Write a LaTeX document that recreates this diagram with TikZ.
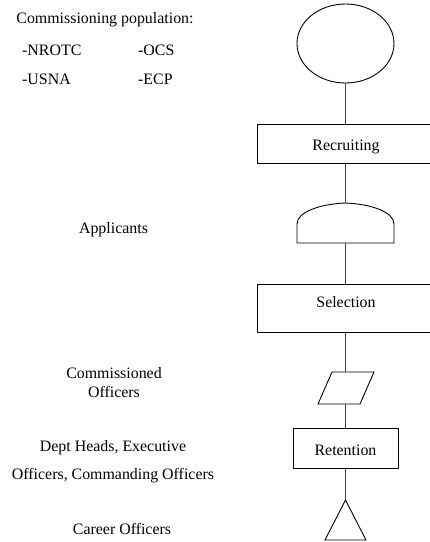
\documentclass[tikz,border=0pt]{standalone}
\usepackage{fontspec}
\setmainfont{Liberation Serif}
\usetikzlibrary{shapes.geometric}
\begin{document}
\begin{tikzpicture}[x=1pt,y=-1pt,
  every node/.style={font=\fontsize{15.9}{19}\selectfont, inner sep=0pt},
  shape line/.style={draw=black, line width=0.9pt},
  link/.style={draw=black!75, line width=0.9pt},
  label text/.style={align=center}]
\useasboundingbox (0,0) rectangle (430,542);
\clip (0,0) rectangle (430,542);

% left-hand labels
\node[label text] (pop) at (105,20) {Commissioning population:};
\node[anchor=west] (nrotc) at (22,50) {-NROTC};
\node[anchor=west] (ocs) at (138,50) {-OCS};
\node[anchor=west] (usna) at (22,79) {-USNA};
\node[anchor=west] (ecp) at (138,79) {-ECP};
\node[label text] (appl) at (113.5,229.5) {Applicants};
\node[label text] (comm) at (114,383) {Commissioned\\Officers};
\node[label text] (dept) at (113,447.5) {Dept Heads, Executive};
\node[label text] (offs) at (113,475.5) {Officers, Commanding Officers};
\node[label text] (career) at (122,528.5) {Career Officers};

% process chain on the right
\node[ellipse, shape line, minimum width=97pt, minimum height=79pt] (pool) at (345.5,43.5) {};

\draw[shape line] (257,124) rectangle (445,163);
\node (recr) at (346,147) {Recruiting};
\coordinate (recrT) at (345.5,124);
\coordinate (recrB) at (345.5,163);

\draw[shape line] (297,243) -- (297,224)
  .. controls (297,212) and (320,204) .. (345.5,203)
  .. controls (371,204) and (394,212) .. (394,224) -- (394,243) -- cycle;
\coordinate (domeT) at (345.5,203);
\coordinate (domeB) at (345.5,243);

\draw[shape line] (257,284) rectangle (445,332);
\node (sel) at (346,302) {Selection};
\coordinate (selT) at (345.5,284);
\coordinate (selB) at (345.5,332);

\draw[shape line] (332,372) -- (374,372) -- (360,404) -- (318,404) -- cycle;
\coordinate (parT) at (345.5,372);
\coordinate (parB) at (345.5,404);

\node[rectangle, shape line, minimum width=105pt, minimum height=40pt] (ret) at (345.5,448) {};
\node (retlab) at (345.5,450) {Retention};

\draw[shape line] (345.5,500) -- (366,540) -- (325,540) -- cycle;
\coordinate (triT) at (345.5,500);

% connectors
\draw[link] (pool.south) -- (recrT);
\draw[link] (recrB) -- (domeT);
\draw[link] (domeB) -- (selT);
\draw[link] (selB) -- (parT);
\draw[link] (parB) -- (ret.north);
\draw[link] (ret.south) -- (triT);
\end{tikzpicture}
\end{document}
